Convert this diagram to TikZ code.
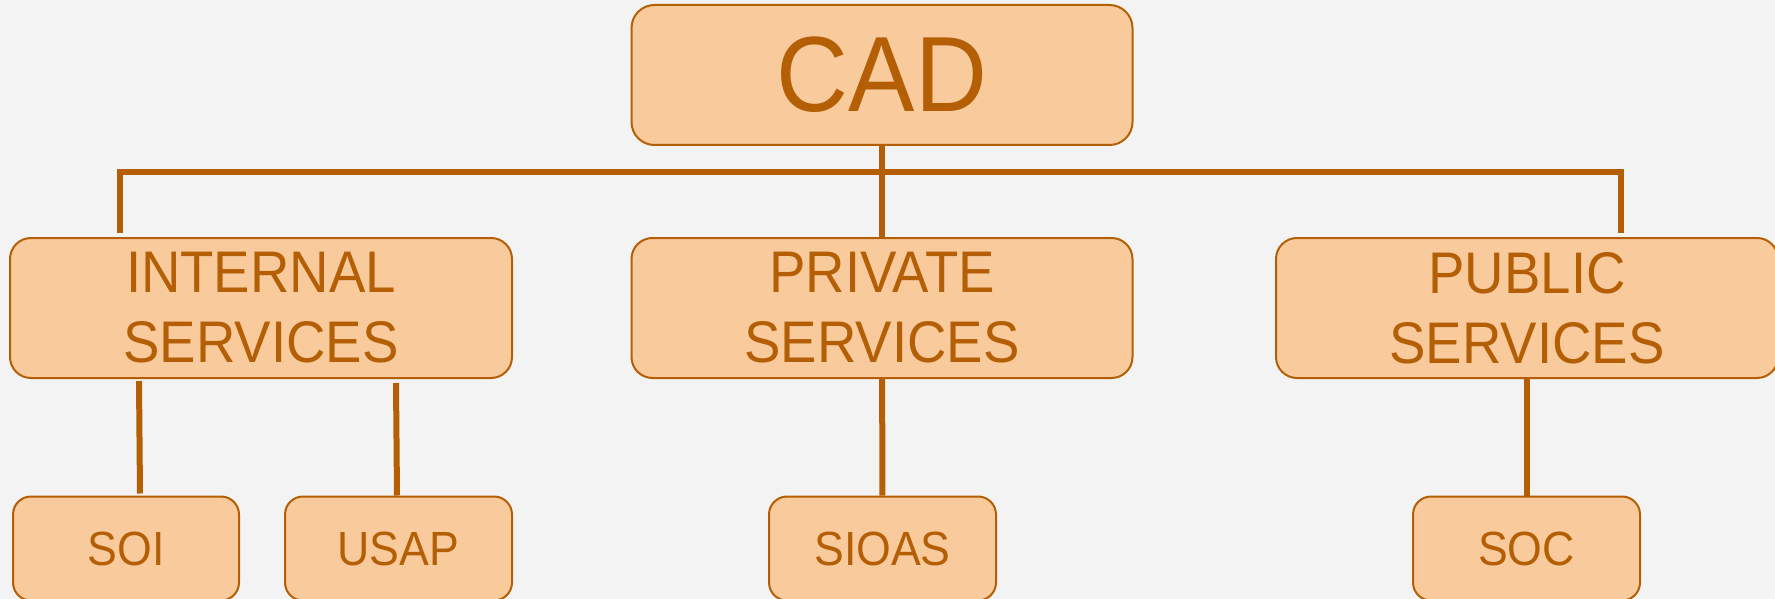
\documentclass[tikz,border=0pt]{standalone}
\usepackage{fontspec}
\setmainfont{Liberation Sans}[FakeStretch=0.93]
\definecolor{bgc}{HTML}{F3F3F3}
\definecolor{boxfill}{HTML}{F9CB9C}
\definecolor{dark}{HTML}{B45F06}
\tikzset{
  box/.style={draw=dark, fill=boxfill, line width=2pt, text=dark, align=center, inner sep=0pt},
  topbox/.style={box, rounded corners=23pt, minimum width=501pt, minimum height=140pt, font=\fontsize{107}{120}\selectfont},
  midbox/.style={box, rounded corners=21pt, minimum height=140pt, font=\fontsize{58.7}{70}\selectfont},
  leafbox/.style={box, rounded corners=18pt, minimum height=104pt, font=\fontsize{48}{56}\selectfont},
  conn/.style={draw=dark, line width=6pt}
}
\begin{document}
\begin{tikzpicture}[x=1pt,y=-1pt]
\useasboundingbox (0,0) rectangle (1775,599);
\clip (0,0) rectangle (1775,599);
\fill[bgc] (0,0) rectangle (1775,599);

\node[topbox] (cad) at (882,75) {CAD};
\node[midbox, minimum width=502pt] (internal) at (261,308) {INTERNAL\\SERVICES};
\node[midbox, minimum width=501pt] (private) at (882,308) {PRIVATE\\SERVICES};
\node[midbox, minimum width=502pt] (public) at (1527,308) {PUBLIC\\SERVICES};

\node[leafbox, minimum width=226pt] (soi) at (126,548.5) {SOI};
\node[leafbox, minimum width=227pt] (usap) at (398.5,548.5) {USAP};
\node[leafbox, minimum width=227pt] (sioas) at (882.5,548.5) {SIOAS};
\node[leafbox, minimum width=227pt] (soc) at (1526.5,548.5) {SOC};

\coordinate (bus) at (882,172);
\draw[conn] (cad) -- (private);
\draw[conn] ([xshift=111pt,yshift=4pt]internal.north west) |- (bus) -| ([xshift=346pt,yshift=4pt]public.north west);

\draw[conn] ([xshift=130pt,yshift=-2pt]internal.south west) -- ([xshift=128pt,yshift=2pt]soi.north west);
\draw[conn] ([xshift=387pt,yshift=-4pt]internal.south west) -- ([xshift=113pt]usap.north west);
\draw[conn] (private) -- (sioas);
\draw[conn] (public.south -| soc.north) -- (soc);
\end{tikzpicture}
\end{document}
